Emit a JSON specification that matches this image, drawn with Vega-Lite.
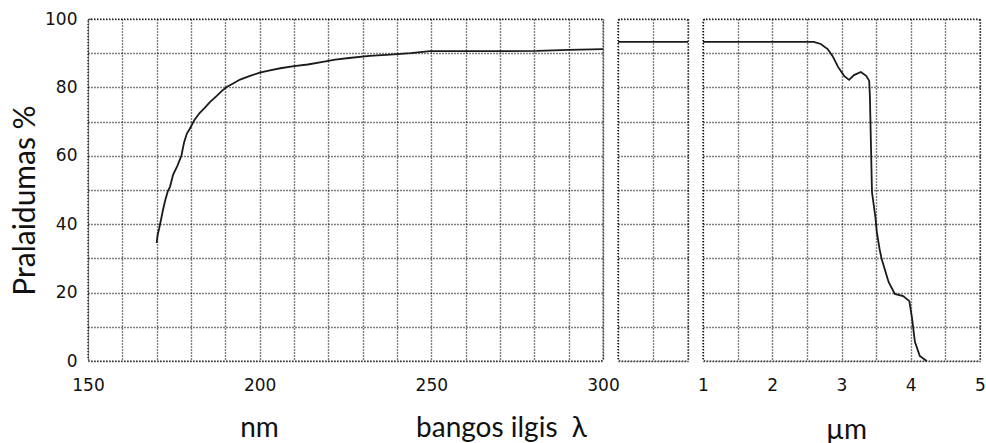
{
  "$schema": "https://vega.github.io/schema/vega-lite/v6.json",
  "background": "white",
  "padding": {"left": 9, "top": 9, "right": 0, "bottom": 2},
  "bounds": "flush",
  "spacing": 15,
  "datasets": {
    "uv": [
      {"nm": 170.0, "pct": 34.5}, {"nm": 170.3, "pct": 37.0}, {"nm": 170.7, "pct": 38.6},
      {"nm": 171.2, "pct": 41.0}, {"nm": 171.8, "pct": 44.0}, {"nm": 172.5, "pct": 47.0},
      {"nm": 173.2, "pct": 49.5}, {"nm": 173.9, "pct": 51.0}, {"nm": 174.8, "pct": 54.5},
      {"nm": 176.0, "pct": 57.0}, {"nm": 177.2, "pct": 60.0}, {"nm": 178.0, "pct": 64.0},
      {"nm": 178.8, "pct": 66.5}, {"nm": 179.7, "pct": 68.0}, {"nm": 181.0, "pct": 70.5},
      {"nm": 182.5, "pct": 72.5}, {"nm": 184.0, "pct": 74.0}, {"nm": 185.5, "pct": 75.7},
      {"nm": 187.5, "pct": 77.5}, {"nm": 189.0, "pct": 79.0}, {"nm": 190.5, "pct": 80.2},
      {"nm": 192.0, "pct": 81.0}, {"nm": 194.3, "pct": 82.3}, {"nm": 197.0, "pct": 83.3},
      {"nm": 200.0, "pct": 84.3}, {"nm": 203.0, "pct": 85.0}, {"nm": 206.0, "pct": 85.6},
      {"nm": 210.0, "pct": 86.2}, {"nm": 214.0, "pct": 86.7}, {"nm": 218.0, "pct": 87.4},
      {"nm": 222.0, "pct": 88.1}, {"nm": 226.0, "pct": 88.6}, {"nm": 232.0, "pct": 89.2},
      {"nm": 238.0, "pct": 89.6}, {"nm": 244.0, "pct": 90.0}, {"nm": 249.6, "pct": 90.6},
      {"nm": 260.0, "pct": 90.6}, {"nm": 270.0, "pct": 90.6}, {"nm": 280.8, "pct": 90.7},
      {"nm": 290.0, "pct": 91.0}, {"nm": 300.0, "pct": 91.2}
    ],
    "vis": [
      {"nm": 300, "pct": 93.3}, {"nm": 1000, "pct": 93.3}
    ],
    "ir": [
      {"um": 1.0, "pct": 93.3}, {"um": 2.6, "pct": 93.3}, {"um": 2.7, "pct": 92.7},
      {"um": 2.8, "pct": 91.2}, {"um": 2.87, "pct": 89.2}, {"um": 2.95, "pct": 86.0},
      {"um": 3.04, "pct": 83.3}, {"um": 3.11, "pct": 82.2}, {"um": 3.18, "pct": 83.6},
      {"um": 3.28, "pct": 84.5}, {"um": 3.36, "pct": 83.3}, {"um": 3.4, "pct": 81.9},
      {"um": 3.41, "pct": 77.5}, {"um": 3.44, "pct": 49.4}, {"um": 3.49, "pct": 42.0},
      {"um": 3.51, "pct": 37.7}, {"um": 3.55, "pct": 32.7}, {"um": 3.58, "pct": 29.8},
      {"um": 3.68, "pct": 23.1}, {"um": 3.77, "pct": 19.6}, {"um": 3.89, "pct": 19.0},
      {"um": 3.98, "pct": 17.5}, {"um": 4.02, "pct": 12.3}, {"um": 4.06, "pct": 5.6},
      {"um": 4.13, "pct": 1.5}, {"um": 4.23, "pct": 0.0}
    ]
  },
  "config": {
    "view": {"stroke": "#000", "strokeDash": [1, 2], "strokeWidth": 1.4, "cornerRadius": 3},
    "axis": {
      "grid": true,
      "gridColor": "#000",
      "gridDash": [1, 2],
      "gridOpacity": 1,
      "gridWidth": 1.4,
      "domain": false,
      "ticks": false,
      "tickSize": 0,
      "labelFont": "DejaVu Sans",
      "labelFontSize": 17,
      "labelColor": "#111",
      "labelFlush": false,
      "labelOverlap": false,
      "labelBound": false,
      "titleFont": "Lato",
      "titleFontSize": 28,
      "titleFontWeight": "normal",
      "titleColor": "#111"
    },
    "line": {"color": "#1a1a1a", "strokeWidth": 1.8}
  },
  "hconcat": [
    {
      "width": 515,
      "height": 342,
      "data": {"name": "uv"},
      "mark": {"type": "line"},
      "encoding": {
        "x": {
          "field": "nm", "type": "quantitative",
          "scale": {"domain": [150, 300], "nice": false, "zero": false},
          "axis": {
            "values": [150, 160, 170, 180, 190, 200, 210, 220, 230, 240, 250, 260, 270, 280, 290, 300],
            "labelExpr": "datum.value % 50 === 0 ? datum.label : ''",
            "labelPadding": 16,
            "title": "nm",
            "titleX": 171, "titleY": 75, "titleBaseline": "alphabetic", "titleAlign": "center"
          }
        },
        "y": {
          "field": "pct", "type": "quantitative",
          "scale": {"domain": [0, 100], "nice": false},
          "axis": {
            "values": [0, 10, 20, 30, 40, 50, 60, 70, 80, 90, 100],
            "labelExpr": "datum.value % 20 === 0 ? datum.label : ''",
            "labelPadding": 11,
            "title": "Pralaidumas %",
            "titleFontSize": 30,
            "titleX": -54, "titleY": 181, "titleAngle": 270,
            "titleBaseline": "alphabetic", "titleAlign": "center"
          }
        }
      }
    },
    {
      "width": 70,
      "height": 342,
      "data": {"name": "vis"},
      "mark": {"type": "line"},
      "encoding": {
        "x": {
          "field": "nm", "type": "quantitative",
          "scale": {"domain": [300, 1000], "nice": false, "zero": false},
          "axis": {
            "values": [300, 650, 1000],
            "labels": false,
            "title": "bangos ilgis \u00a0λ",
            "titleX": -117, "titleY": 75, "titleBaseline": "alphabetic", "titleAlign": "center"
          }
        },
        "y": {
          "field": "pct", "type": "quantitative",
          "scale": {"domain": [0, 100], "nice": false},
          "axis": {"values": [0, 10, 20, 30, 40, 50, 60, 70, 80, 90, 100], "labels": false, "title": null}
        }
      }
    },
    {
      "width": 277,
      "height": 342,
      "data": {"name": "ir"},
      "mark": {"type": "line"},
      "encoding": {
        "x": {
          "field": "um", "type": "quantitative",
          "scale": {"domain": [1, 5], "nice": false, "zero": false},
          "axis": {
            "values": [1, 1.5, 2, 2.5, 3, 3.5, 4, 4.5, 5],
            "format": "~g",
            "labelExpr": "datum.value % 1 === 0 ? datum.label : ''",
            "labelPadding": 16,
            "title": "µm",
            "titleX": 143, "titleY": 77, "titleBaseline": "alphabetic", "titleAlign": "center"
          }
        },
        "y": {
          "field": "pct", "type": "quantitative",
          "scale": {"domain": [0, 100], "nice": false},
          "axis": {"values": [0, 10, 20, 30, 40, 50, 60, 70, 80, 90, 100], "labels": false, "title": null}
        }
      }
    }
  ]
}
